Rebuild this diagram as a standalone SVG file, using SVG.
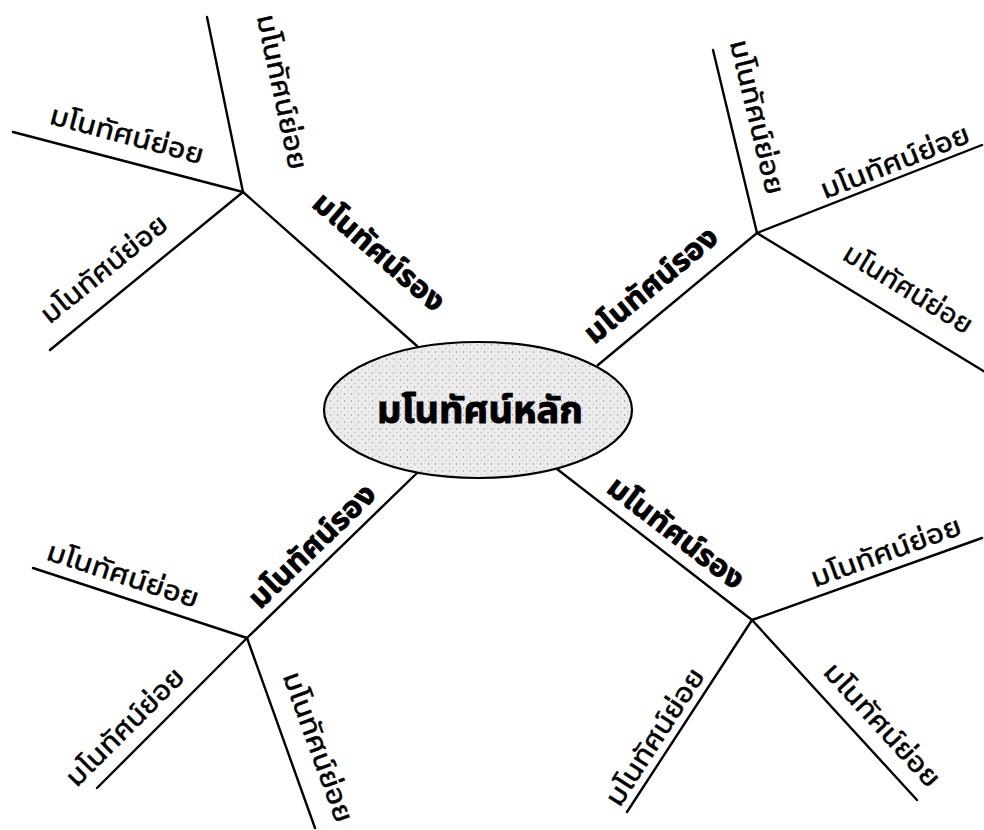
<svg xmlns="http://www.w3.org/2000/svg" width="984" height="830" viewBox="0 0 984 830">
<defs>
<pattern id="stip" width="7" height="7" patternUnits="userSpaceOnUse">
<rect width="7" height="7" fill="#ececec"/>
<circle cx="1.5" cy="2" r="0.7" fill="#8f8f8f"/>
<circle cx="5" cy="5.5" r="0.6" fill="#a8a8a8"/>
<circle cx="4.5" cy="1" r="0.4" fill="#bcbcbc"/>
</pattern>
<style>
.ln{stroke:#000;stroke-width:2.4;fill:none;stroke-linecap:round}
.sub{font-family:"Noto Sans Thai","Noto Sans","DejaVu Sans",sans-serif;font-size:27px;fill:#000;stroke:#000;stroke-width:0.5;text-anchor:middle}
.main{font-family:"Noto Sans Thai","Noto Sans","DejaVu Sans",sans-serif;font-size:30px;font-weight:bold;fill:#000;stroke:#000;stroke-width:0.8;text-anchor:middle}
.core{font-family:"Noto Sans Thai","Noto Sans","DejaVu Sans",sans-serif;font-size:38px;font-weight:bold;fill:#000;stroke:#000;stroke-width:1;text-anchor:middle}
</style>
</defs>
<rect width="984" height="830" fill="#fff"/>
<g id="connectors">
<line class="ln" x1="417" y1="346" x2="243" y2="192"/>
<line class="ln" x1="243" y1="192" x2="207" y2="17"/>
<line class="ln" x1="243" y1="192" x2="13" y2="132"/>
<line class="ln" x1="243" y1="192" x2="50" y2="350"/>
<line class="ln" x1="598" y1="365" x2="757" y2="233"/>
<line class="ln" x1="757" y1="233" x2="713" y2="50"/>
<line class="ln" x1="757" y1="233" x2="982" y2="145"/>
<line class="ln" x1="757" y1="233" x2="990" y2="375"/>
<line class="ln" x1="417" y1="473" x2="247" y2="638"/>
<line class="ln" x1="247" y1="638" x2="33" y2="568"/>
<line class="ln" x1="247" y1="638" x2="97" y2="788"/>
<line class="ln" x1="247" y1="638" x2="315" y2="828"/>
<line class="ln" x1="557" y1="469" x2="752" y2="620"/>
<line class="ln" x1="752" y1="620" x2="982" y2="538"/>
<line class="ln" x1="752" y1="620" x2="627" y2="812"/>
<line class="ln" x1="752" y1="620" x2="917" y2="800"/>
</g>
<g id="core">
<ellipse cx="478" cy="410" rx="154" ry="68" fill="url(#stip)" stroke="#000" stroke-width="2.2"/>
<text class="core" x="480" y="423" textLength="206" lengthAdjust="spacingAndGlyphs">มโนทัศน์หลัก</text>
</g>
<g id="branch-tl">
<text class="main" transform="translate(379,252) rotate(41)" y="10" textLength="164" lengthAdjust="spacingAndGlyphs">มโนทัศน์รอง</text>
</g>
<g id="sub-tl-1"><text class="sub" transform="translate(282,92) rotate(78)" y="9" textLength="158" lengthAdjust="spacingAndGlyphs">มโนทัศน์ย่อย</text></g>
<g id="sub-tl-2"><text class="sub" transform="translate(127,135) rotate(15)" y="9" textLength="158" lengthAdjust="spacingAndGlyphs">มโนทัศน์ย่อย</text></g>
<g id="sub-tl-3"><text class="sub" transform="translate(104,269) rotate(-39)" y="9" textLength="155" lengthAdjust="spacingAndGlyphs">มโนทัศน์ย่อย</text></g>
<g id="branch-tr">
<text class="main" transform="translate(651,285) rotate(-39.6)" y="10" textLength="164" lengthAdjust="spacingAndGlyphs">มโนทัศน์รอง</text>
</g>
<g id="sub-tr-1"><text class="sub" transform="translate(757,117) rotate(76.5)" y="9" textLength="158" lengthAdjust="spacingAndGlyphs">มโนทัศน์ย่อย</text></g>
<g id="sub-tr-2"><text class="sub" transform="translate(895,162) rotate(-21.5)" y="9" textLength="158" lengthAdjust="spacingAndGlyphs">มโนทัศน์ย่อย</text></g>
<g id="sub-tr-3"><text class="sub" transform="translate(908,289) rotate(31.5)" y="9" textLength="146" lengthAdjust="spacingAndGlyphs">มโนทัศน์ย่อย</text></g>
<g id="branch-bl">
<text class="main" transform="translate(312,546) rotate(-44)" y="10" textLength="164" lengthAdjust="spacingAndGlyphs">มโนทัศน์รอง</text>
</g>
<g id="sub-bl-1"><text class="sub" transform="translate(123,575) rotate(18)" y="9" textLength="158" lengthAdjust="spacingAndGlyphs">มโนทัศน์ย่อย</text></g>
<g id="sub-bl-2"><text class="sub" transform="translate(125,727) rotate(-45)" y="9" textLength="155" lengthAdjust="spacingAndGlyphs">มโนทัศน์ย่อย</text></g>
<g id="sub-bl-3"><text class="sub" transform="translate(318,747) rotate(70)" y="9" textLength="158" lengthAdjust="spacingAndGlyphs">มโนทัศน์ย่อย</text></g>
<g id="branch-br">
<text class="main" transform="translate(676,533) rotate(37.6)" y="10" textLength="164" lengthAdjust="spacingAndGlyphs">มโนทัศน์รอง</text>
</g>
<g id="sub-br-1"><text class="sub" transform="translate(886,552) rotate(-20)" y="9" textLength="158" lengthAdjust="spacingAndGlyphs">มโนทัศน์ย่อย</text></g>
<g id="sub-br-2"><text class="sub" transform="translate(655,737) rotate(-57)" y="9" textLength="158" lengthAdjust="spacingAndGlyphs">มโนทัศน์ย่อย</text></g>
<g id="sub-br-3"><text class="sub" transform="translate(882,725) rotate(47.5)" y="9" textLength="158" lengthAdjust="spacingAndGlyphs">มโนทัศน์ย่อย</text></g>
</svg>
